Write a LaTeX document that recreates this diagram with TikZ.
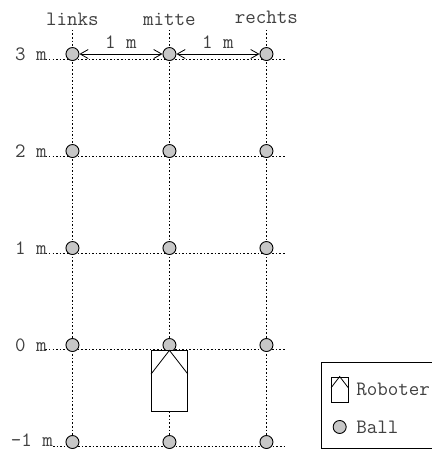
\documentclass[tikz,border=0pt]{standalone}
\usetikzlibrary{arrows.meta}
\definecolor{ball-grey}{gray}{0.78}
\colorlet{line}{black}
\tikzset{
  ball/.style={circle, draw=line, fill=ball-grey, line width=0.9bp, minimum size=13bp, inner sep=0pt},
  grid line/.style={line width=0.8bp, dash pattern=on 1.6bp off 2bp},
  distance line/.style={line width=0.8bp, <->, >={Straight Barb[length=8bp,width=9bp]}},
  robot body/.style={rectangle, draw=line, fill=white, line width=0.9bp, inner sep=0pt},
  robot roof/.style={line width=0.8bp},
  key box/.style={rectangle, draw=line, line width=0.9bp, inner sep=0pt},
  caption/.style={font=\fontsize{20.4bp}{20.4bp}\ttfamily, text=black!75, inner sep=0pt},
}
\begin{document}
\begin{tikzpicture}[x=3.42cm, y=3.42cm, auto]
\useasboundingbox (-0.747, -1.072) rectangle (3.706, 3.557);
\coordinate (links top) at (0, 3.25);
\coordinate (links bottom) at (0, -1);
\coordinate (mitte top) at (1, 3.25);
\coordinate (mitte bottom) at (1, -1);
\coordinate (rechts top) at (2, 3.25);
\coordinate (rechts bottom) at (2, -1);
\coordinate (row 3 start) at (-0.28, 2.94);
\coordinate (row 3 end) at (2.2, 2.94);
\coordinate (row 2 start) at (-0.28, 1.94);
\coordinate (row 2 end) at (2.2, 1.94);
\coordinate (row 1 start) at (-0.28, 0.94);
\coordinate (row 1 end) at (2.2, 0.94);
\coordinate (row 0 start) at (-0.28, -0.05);
\coordinate (row 0 end) at (2.2, -0.05);
\coordinate (row -1 start) at (-0.2, -1.05);
\coordinate (row -1 end) at (2.2, -1.05);
\draw[grid line] (links top) -- (links bottom);
\draw[grid line] (mitte top) -- (mitte bottom);
\draw[grid line] (rechts top) -- (rechts bottom);
\draw[grid line] (row 3 start) -- (row 3 end);
\draw[grid line] (row 2 start) -- (row 2 end);
\draw[grid line] (row 1 start) -- (row 1 end);
\draw[grid line] (row 0 start) -- (row 0 end);
\draw[grid line] (row -1 start) -- (row -1 end);
\node[ball] at (0, 3) (links 3) {};
\node[ball] at (1, 3) (mitte 3) {};
\node[ball] at (2, 3) (rechts 3) {};
\node[ball] at (0, 2) (links 2) {};
\node[ball] at (1, 2) (mitte 2) {};
\node[ball] at (2, 2) (rechts 2) {};
\node[ball] at (0, 1) (links 1) {};
\node[ball] at (1, 1) (mitte 1) {};
\node[ball] at (2, 1) (rechts 1) {};
\node[ball] at (0, 0) (links 0) {};
\node[ball] at (1, 0) (mitte 0) {};
\node[ball] at (2, 0) (rechts 0) {};
\node[ball] at (0, -1) (links -1) {};
\node[ball] at (1, -1) (mitte -1) {};
\node[ball] at (2, -1) (rechts -1) {};
\draw[distance line] (links 3) -- (mitte 3);
\draw[distance line] (mitte 3) -- (rechts 3);
\node[caption] at (0, 3.36) (links) {links};
\node[caption] at (1, 3.36) (mitte) {mitte};
\node[caption] at (2, 3.38) (rechts) {rechts};
\node[caption] at (0.5, 3.12) (dist left) {1 m};
\node[caption] at (1.5, 3.12) (dist right) {1 m};
\node[caption] at (-0.428, 3) (label 3) {3 m};
\node[caption] at (-0.428, 2) (label 2) {2 m};
\node[caption] at (-0.428, 1) (label 1) {1 m};
\node[caption] at (-0.428, 0) (label 0) {0 m};
\node[caption] at (-0.418, -0.985) (label -1) {-1 m};
% robot
\node[robot body, minimum width=36.5bp, minimum height=60.5bp, anchor=north] at (1, -0.055) (robot) {};
\coordinate (robot left) at (0.81, -0.30);
\coordinate (robot right) at (1.19, -0.30);
\draw[robot roof] (robot left) -- (robot.north) -- (robot right);
% key
\node[key box, minimum width=114bp, minimum height=85bp, anchor=north west] at (2.562, -0.18) (key) {};
\node[robot body, minimum width=17bp, minimum height=25bp, anchor=north] at (2.755, -0.325) (key robot) {};
\coordinate (key robot left) at (2.667, -0.44);
\coordinate (key robot right) at (2.843, -0.44);
\draw[robot roof] (key robot left) -- (key robot.north) -- (key robot right);
\node[ball] at (2.755, -0.845) (key ball) {};
\node[caption, anchor=west] at (2.925, -0.46) (key robot text) {Roboter};
\node[caption, anchor=west] at (2.925, -0.845) (key ball text) {Ball};
\end{tikzpicture}
\end{document}
